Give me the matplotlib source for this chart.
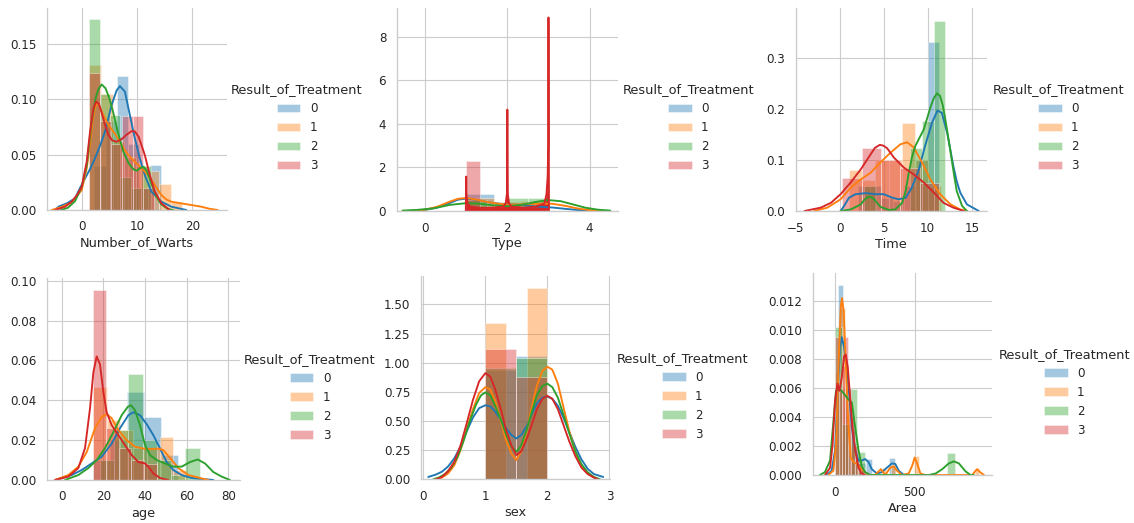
import numpy as np
import matplotlib
matplotlib.use("Agg")
import matplotlib.pyplot as plt
from matplotlib.patches import Patch

W, H, DPI = 1134, 523, 72

GROUPS = ["0", "1", "2", "3"]
COLORS = ["#1f77b4", "#ff7f0e", "#2ca02c", "#d62728"]
LEGEND_TITLE = "Result_of_Treatment"

# ---------------- Number_of_Warts ----------------
warts_bin_start = [2.3, 1.4, 1.37, 1.4]
warts_bin_width = [2.0, 2.1, 1.87, 1.95]
warts_hist_0 = [0.04, 0.08, 0.121, 0.06, 0.02, 0.041]
warts_hist_1 = [0.131, 0.105, 0.062, 0.048, 0.040, 0.035, 0.0235, 0.0075]
warts_hist_2 = [0.173, 0.105, 0.086, 0.03, 0.02, 0.04]
warts_hist_3 = [0.124, 0.08, 0.06, 0.085, 0.085, 0.02]
warts_kde_0 = [(-4.8, 0.0), (-4.2, 0.003), (-2.7, 0.006), (-1.2, 0.0105), (-0.3, 0.02), (0.6, 0.0286),
               (1.5, 0.037), (2.4, 0.0467), (3.3, 0.058), (4.2, 0.0707), (5.4, 0.0948), (6.3, 0.108),
               (6.9, 0.112), (7.8, 0.107), (8.7, 0.0858), (9.6, 0.0647), (10.5, 0.0467), (11.4, 0.0316),
               (12.6, 0.0166), (14.4, 0.0075), (16.2, 0.003), (18.9, 0.0)]
warts_kde_1 = [(-5.4, 0.0), (-3.5, 0.003), (-1.8, 0.007), (0.0, 0.018), (0.9, 0.0376), (1.5, 0.06),
               (2.0, 0.082), (2.4, 0.092), (2.7, 0.097), (3.1, 0.095), (3.6, 0.089), (4.8, 0.077),
               (6.0, 0.069), (7.2, 0.0587), (8.4, 0.0497), (9.6, 0.0436), (10.8, 0.0376), (12.0, 0.0316),
               (13.2, 0.0226), (14.4, 0.0135), (15.3, 0.0095), (16.2, 0.0075), (18.0, 0.006),
               (19.8, 0.0045), (21.6, 0.003), (23.0, 0.0012), (24.6, 0.0)]
warts_kde_2 = [(-3.8, 0.0), (-2.5, 0.002), (-1.2, 0.008), (0.0, 0.021), (0.9, 0.04), (1.8, 0.08),
               (2.5, 0.101), (3.0, 0.109), (3.6, 0.1135), (4.3, 0.11), (5.0, 0.101), (5.7, 0.088),
               (6.5, 0.071), (7.5, 0.053), (8.5, 0.042), (9.3, 0.037), (9.9, 0.0355), (10.6, 0.038),
               (11.2, 0.039), (11.8, 0.035), (12.6, 0.024), (13.5, 0.012), (14.4, 0.005),
               (15.5, 0.001), (16.5, 0.0)]
warts_kde_3 = [(-4.8, 0.0), (-3.0, 0.003), (-1.8, 0.0075), (-0.8, 0.014), (0.0, 0.021), (0.9, 0.0437),
               (1.5, 0.0707), (2.1, 0.0918), (2.6, 0.098), (3.1, 0.096), (3.6, 0.088), (4.2, 0.077),
               (4.8, 0.068), (5.5, 0.063), (6.3, 0.0617), (7.2, 0.064), (8.1, 0.068), (9.0, 0.0713),
               (9.6, 0.071), (10.3, 0.066), (11.4, 0.0497), (12.3, 0.0316), (13.2, 0.0166),
               (14.4, 0.006), (15.9, 0.0)]

# ---------------- Type ----------------
type_bin_start = [1.0, 1.0, 1.0, 1.0]
type_bin_width = [0.667, 0.667, 0.5, 0.333]
type_hist_0 = [0.77, 0.4, 0.33]
type_hist_1 = [0.6, 0.42, 0.48]
type_hist_2 = [0.5, 0.0, 0.58, 0.58]
type_hist_3 = [2.31, 0.0, 0.0, 0.35, 0.0, 0.35]
type_kde_0 = [(-0.45, 0.0), (-0.2, 0.02), (0.0, 0.05), (0.3, 0.16), (0.6, 0.37), (0.8, 0.52), (1.0, 0.57),
              (1.2, 0.53), (1.5, 0.42), (1.8, 0.33), (2.0, 0.31), (2.3, 0.28), (2.6, 0.22), (2.9, 0.18),
              (3.1, 0.16), (3.4, 0.1), (3.7, 0.05), (4.0, 0.02), (4.3, 0.0)]
type_kde_1 = [(-0.4, 0.0), (-0.2, 0.02), (0.0, 0.06), (0.3, 0.2), (0.6, 0.43), (0.8, 0.56), (1.0, 0.6),
              (1.2, 0.54), (1.5, 0.42), (1.8, 0.33), (2.0, 0.3), (2.3, 0.3), (2.6, 0.32), (2.9, 0.34),
              (3.1, 0.33), (3.4, 0.24), (3.7, 0.12), (4.0, 0.04), (4.3, 0.0)]
type_kde_2 = [(-0.55, 0.02), (-0.2, 0.05), (0.2, 0.12), (0.6, 0.28), (1.0, 0.36), (1.3, 0.34), (1.6, 0.27),
              (2.0, 0.22), (2.4, 0.3), (2.7, 0.42), (3.0, 0.5), (3.3, 0.45), (3.6, 0.3), (3.9, 0.15),
              (4.2, 0.06), (4.5, 0.02)]
type_kde_3 = [(0.99, 0.0), (1.0, 1.58), (1.005, 0.8), (1.02, 0.45), (1.05, 0.3), (1.1, 0.2), (1.3, 0.15),
              (1.6, 0.15), (1.9, 0.2), (1.96, 0.35), (1.99, 0.8), (2.0, 4.65), (2.01, 0.8), (2.04, 0.35),
              (2.1, 0.2), (2.4, 0.15), (2.7, 0.2), (2.9, 0.35), (2.95, 0.75), (2.98, 1.58), (2.995, 3.0),
              (3.0, 8.88), (3.01, 0.0)]

# ---------------- Time ----------------
time_bin_start = [2.08, 1.05, 2.76, 0.3]
time_bin_width = [1.32, 1.5, 1.32, 2.2]
time_hist_0 = [0.05, 0.05, 0.025, 0.02, 0.05, 0.1, 0.331]
time_hist_1 = [0.08, 0.06, 0.1, 0.1, 0.172, 0.1, 0.05]
time_hist_2 = [0.05, 0.0, 0.0, 0.0, 0.123, 0.177, 0.374]
time_hist_3 = [0.065, 0.124, 0.1, 0.085, 0.055]
time_kde_0 = [(0.1, 0.0), (0.5, 0.01), (1.05, 0.026), (1.8, 0.033), (2.94, 0.035), (4.1, 0.033),
              (5.0, 0.033), (6.0, 0.026), (6.7, 0.023), (7.5, 0.026), (8.2, 0.046), (9.0, 0.082),
              (9.7, 0.128), (10.5, 0.174), (11.1, 0.197), (11.6, 0.193), (12.2, 0.154), (12.55, 0.122),
              (12.9, 0.089), (13.3, 0.058), (13.7, 0.036), (14.45, 0.013), (15.8, 0.0)]
time_kde_1 = [(-2.9, 0.0), (-1.4, 0.0066), (0.1, 0.023), (1.25, 0.046), (2.4, 0.062), (3.5, 0.075),
              (4.6, 0.095), (5.8, 0.115), (6.9, 0.131), (7.66, 0.135), (8.4, 0.125), (9.36, 0.095),
              (10.3, 0.062), (11.4, 0.033), (12.6, 0.013), (13.7, 0.003), (14.5, 0.0)]
time_kde_2 = [(0.1, 0.0), (1.25, 0.003), (2.4, 0.013), (2.8, 0.022), (3.2, 0.0275), (3.5, 0.028),
              (3.9, 0.023), (4.64, 0.008), (5.6, 0.002), (6.3, 0.003), (7.1, 0.016), (7.5, 0.04),
              (7.85, 0.075), (8.2, 0.105), (8.6, 0.128), (9.1, 0.145), (9.55, 0.16), (10.3, 0.203),
              (10.7, 0.222), (11.05, 0.231), (11.4, 0.226), (11.7, 0.208), (12.0, 0.18), (12.3, 0.148),
              (12.6, 0.115), (13.0, 0.07), (13.3, 0.039), (13.9, 0.01), (14.45, 0.0)]
time_kde_3 = [(-4.0, 0.0), (-2.15, 0.0066), (-1.0, 0.016), (0.1, 0.033), (1.25, 0.056), (2.4, 0.082),
              (3.5, 0.111), (4.0, 0.124), (4.57, 0.13), (5.0, 0.128), (5.4, 0.123), (6.15, 0.105),
              (7.3, 0.085), (8.4, 0.072), (9.55, 0.056), (10.7, 0.036), (11.8, 0.016), (12.9, 0.0066),
              (14.1, 0.0)]

# ---------------- age ----------------
age_bin_start = [15.2, 15.2, 18.3, 15.2]
age_bin_width = [8.1, 6.4, 6.85, 6.1]
age_hist_0 = [0.01, 0.02, 0.044, 0.0317, 0.0125]
age_hist_1 = [0.0467, 0.03, 0.025, 0.016, 0.016, 0.0217, 0.005]
age_hist_2 = [0.01, 0.025, 0.053, 0.02, 0.01, 0.0025, 0.0162]
age_hist_3 = [0.0955, 0.026, 0.016, 0.01, 0.008]
age_kde_0 = [(-3.2, 0.0), (4.8, 0.0025), (9.6, 0.005), (14.4, 0.0083), (19.2, 0.0117), (24.0, 0.0183),
             (28.0, 0.026), (32.0, 0.0325), (34.4, 0.034), (37.6, 0.0325), (40.8, 0.028), (44.0, 0.0225),
             (47.2, 0.0158), (50.4, 0.009), (53.6, 0.005), (57.6, 0.0025), (62.4, 0.001), (72.8, 0.0)]
age_kde_1 = [(-3.2, 0.0), (3.2, 0.0025), (8.0, 0.0067), (12.0, 0.014), (16.0, 0.026), (19.2, 0.0317),
             (21.6, 0.033), (24.0, 0.031), (27.2, 0.025), (31.2, 0.02), (35.2, 0.0167), (39.2, 0.0158),
             (43.2, 0.0155), (46.4, 0.0158), (48.8, 0.015), (52.0, 0.011), (56.0, 0.006), (60.8, 0.0025),
             (67.2, 0.0008), (70.4, 0.0)]
age_kde_2 = [(1.6, 0.0), (8.0, 0.0025), (12.8, 0.006), (16.8, 0.01), (20.8, 0.016), (24.8, 0.024),
             (28.8, 0.0325), (31.7, 0.0367), (33.3, 0.0375), (35.2, 0.035), (37.6, 0.0275), (40.0, 0.0175),
             (42.4, 0.0125), (45.6, 0.01), (49.6, 0.0083), (53.6, 0.0067), (57.6, 0.0067), (61.6, 0.009),
             (65.3, 0.0103), (68.8, 0.0083), (72.8, 0.004), (76.8, 0.0017), (80.8, 0.0)]
age_kde_3 = [(-3.2, 0.0), (3.2, 0.0017), (8.0, 0.006), (11.2, 0.016), (13.6, 0.036), (15.2, 0.054),
             (16.8, 0.062), (18.4, 0.058), (20.0, 0.044), (21.6, 0.034), (24.0, 0.0275), (27.2, 0.0225),
             (30.4, 0.0175), (33.6, 0.0125), (36.8, 0.009), (40.0, 0.0083), (41.6, 0.0067), (44.0, 0.0033),
             (47.2, 0.001), (51.2, 0.0)]

# ---------------- sex ----------------
sex_bin_start = [1.0, 1.0, 1.0, 1.0]
sex_bin_width = [0.5, 0.333, 0.5, 0.5]
sex_hist_0 = [0.94, 1.06]
sex_hist_1 = [1.343, 0.0, 1.64]
sex_hist_2 = [0.957, 1.043]
sex_hist_3 = [1.12, 0.88]
sex_kde_0 = [(0.08, 0.02), (0.2, 0.04), (0.3, 0.065), (0.4, 0.11), (0.5, 0.18), (0.6, 0.28), (0.7, 0.41),
             (0.8, 0.53), (0.9, 0.61), (1.0, 0.635), (1.08, 0.625), (1.16, 0.58), (1.25, 0.51), (1.33, 0.44),
             (1.42, 0.38), (1.5, 0.35), (1.58, 0.38), (1.67, 0.46), (1.75, 0.56), (1.83, 0.65), (1.92, 0.7),
             (2.0, 0.71), (2.08, 0.69), (2.17, 0.63), (2.25, 0.54), (2.35, 0.41), (2.45, 0.28), (2.55, 0.17),
             (2.65, 0.09), (2.75, 0.045), (2.9, 0.02)]
sex_kde_1 = [(0.22, 0.0), (0.3, 0.015), (0.4, 0.05), (0.5, 0.12), (0.6, 0.25), (0.7, 0.43), (0.8, 0.6),
             (0.9, 0.74), (1.0, 0.79), (1.08, 0.77), (1.16, 0.67), (1.25, 0.5), (1.33, 0.34), (1.42, 0.22),
             (1.5, 0.165), (1.58, 0.24), (1.67, 0.42), (1.75, 0.62), (1.83, 0.8), (1.92, 0.93), (2.0, 0.965),
             (2.08, 0.94), (2.17, 0.82), (2.25, 0.64), (2.35, 0.42), (2.45, 0.24), (2.55, 0.11), (2.65, 0.05),
             (2.75, 0.015), (2.82, 0.0)]
sex_kde_2 = [(0.16, 0.0), (0.25, 0.015), (0.35, 0.045), (0.45, 0.1), (0.55, 0.19), (0.65, 0.33), (0.75, 0.5),
             (0.85, 0.64), (0.93, 0.72), (1.0, 0.745), (1.08, 0.72), (1.16, 0.63), (1.25, 0.51), (1.33, 0.39),
             (1.42, 0.28), (1.5, 0.237), (1.58, 0.29), (1.67, 0.43), (1.75, 0.58), (1.83, 0.72), (1.92, 0.8),
             (2.0, 0.82), (2.08, 0.79), (2.17, 0.7), (2.25, 0.57), (2.35, 0.4), (2.45, 0.24), (2.55, 0.13),
             (2.65, 0.06), (2.75, 0.02), (2.85, 0.0)]
sex_kde_3 = [(0.2, 0.0), (0.3, 0.02), (0.4, 0.07), (0.5, 0.15), (0.6, 0.29), (0.7, 0.48), (0.8, 0.68),
             (0.9, 0.84), (1.0, 0.91), (1.08, 0.88), (1.16, 0.77), (1.25, 0.6), (1.33, 0.43), (1.42, 0.29),
             (1.5, 0.208), (1.58, 0.24), (1.67, 0.35), (1.75, 0.47), (1.83, 0.6), (1.92, 0.69), (2.0, 0.716),
             (2.08, 0.69), (2.17, 0.6), (2.25, 0.48), (2.35, 0.33), (2.45, 0.2), (2.55, 0.1), (2.65, 0.045),
             (2.75, 0.015), (2.82, 0.0)]

# ---------------- Area ----------------
area_bin_start = [18.0, 4.0, 2.0, 4.0]
area_bin_width = [36.0, 29.0, 46.7, 20.0]
area_hist_0 = [0.0131, 0.006, 0.003, 0.001, 0.0008, 0.0011, 0.0, 0.0, 0.0, 0.00115]
area_hist_1 = [0.007, 0.0115, 0.006, 0.002, 0.001, 0.0007, 0, 0, 0, 0, 0.0005, 0, 0.0007, 0, 0, 0, 0,
               0.0013, 0, 0, 0, 0, 0, 0, 0, 0, 0, 0, 0, 0, 0.0005]
area_hist_2 = [0.0102, 0.0035, 0.0059, 0.0016, 0, 0, 0, 0, 0, 0, 0, 0, 0, 0, 0, 0.0015]
area_hist_3 = [0.0095, 0.006, 0.0075, 0.0095, 0.006, 0.004, 0.002, 0.0008, 0.0005]
area_kde_0 = [(-50, 0.0), (-19, 0.0003), (2, 0.0017), (17, 0.0054), (33, 0.0088), (44, 0.0095), (59, 0.0088),
              (75, 0.0072), (92, 0.0054), (107, 0.0033), (128, 0.0017), (149, 0.001), (169, 0.001),
              (190, 0.0011), (211, 0.0009), (232, 0.0004), (264, 0.0001), (295, 0.0002), (326, 0.0005),
              (358, 0.0008), (379, 0.00076), (400, 0.0003), (431, 0.0), (452, 0.0)]
area_kde_1 = [(-40, 0.0), (-8, 0.0003), (8, 0.0021), (23, 0.0072), (38, 0.0116), (46, 0.0122), (56, 0.0113),
              (71, 0.0072), (86, 0.0033), (100, 0.0012), (117, 0.0009), (138, 0.00076), (159, 0.0005),
              (180, 0.0003), (211, 0.0), (253, 0.0), (270, 0.0002), (289, 0.0004), (316, 0.0), (347, 0.0005),
              (368, 0.0006), (389, 0.0003), (420, 0.0), (462, 0.0001), (483, 0.0006), (500, 0.0012),
              (515, 0.0008), (536, 0.0001), (567, 0.0), (860, 0.0), (881, 0.0003), (891, 0.0004),
              (908, 0.0002), (933, 0.0)]
area_kde_2 = [(-92, 0.0), (-61, 0.0002), (-29, 0.001), (-8, 0.0037), (8, 0.0058), (23, 0.006), (44, 0.0058),
              (65, 0.0055), (86, 0.0052), (107, 0.005), (128, 0.0033), (149, 0.0017), (169, 0.0006),
              (190, 0.0002), (222, 0.0), (588, 0.0), (630, 0.0001), (672, 0.0004), (713, 0.0008),
              (745, 0.00094), (776, 0.0008), (818, 0.00025), (849, 0.0), (870, 0.0)]
area_kde_3 = [(-61, 0.0), (-29, 0.0005), (-13, 0.0021), (2, 0.0051), (17, 0.0063), (29, 0.0058), (44, 0.0067),
              (59, 0.0082), (69, 0.0083), (82, 0.0074), (96, 0.0054), (113, 0.003), (130, 0.0016),
              (149, 0.0005), (169, 0.0001), (190, 0.0)]

TEXT = "#262626"
GRID = "#cccccc"
TICK_SIZE = 11.9
LABEL_SIZE = 12.9
LEGEND_SIZE = 11.9
LEGEND_TITLE_SIZE = 12.9

fig = plt.figure(figsize=(W / DPI, H / DPI), dpi=DPI)
fig.patch.set_facecolor("white")


def make_axes(left, top, right, bottom):
    return fig.add_axes([left / W, 1 - bottom / H, (right - left) / W, (bottom - top) / H])


def style_axes(ax, xlabel, xlim, ylim, xticks, yticks, yfmt):
    ax.set_xlim(*xlim)
    ax.set_ylim(*ylim)
    ax.set_xticks(xticks)
    ax.set_yticks(yticks)
    ax.set_yticklabels([yfmt.format(v) for v in yticks])
    ax.set_xlabel(xlabel, fontsize=LABEL_SIZE, color=TEXT, labelpad=3)
    ax.grid(True, color=GRID, linewidth=1.1)
    ax.set_axisbelow(True)
    for side in ("top", "right"):
        ax.spines[side].set_visible(False)
    for side in ("left", "bottom"):
        ax.spines[side].set_color(GRID)
        ax.spines[side].set_linewidth(1.35)
    ax.tick_params(length=0, pad=10.5, labelsize=TICK_SIZE, labelcolor=TEXT)


def draw_groups(ax, starts, widths, hists, kdes, filled=()):
    for i in range(len(GROUPS)):
        h = np.asarray(hists[i], dtype=float)
        lefts = starts[i] + widths[i] * np.arange(len(h))
        ax.bar(lefts, h, width=widths[i], align="edge", color=COLORS[i], alpha=0.4,
               edgecolor="white", linewidth=1)
        xs, ys = np.array(kdes[i]).T
        if i in filled:
            ax.fill_between(xs, 0, ys, color=COLORS[i], linewidth=0)
        ax.plot(xs, ys, color=COLORS[i], linewidth=1.9,
                solid_joinstyle="round", solid_capstyle="round")


def add_legend(cx, cy):
    handles = [Patch(facecolor=c, alpha=0.4, edgecolor="white") for c in COLORS]
    leg = fig.legend(handles, GROUPS, title=LEGEND_TITLE, loc="center",
                     bbox_to_anchor=(cx / W, 1 - cy / H), frameon=False,
                     fontsize=LEGEND_SIZE, title_fontsize=LEGEND_TITLE_SIZE)
    for t in leg.get_texts():
        t.set_color(TEXT)
    leg.get_title().set_color(TEXT)


# Number_of_Warts
ax = make_axes(46.7, 8.3, 226.7, 210)
draw_groups(ax, warts_bin_start, warts_bin_width,
            [warts_hist_0, warts_hist_1, warts_hist_2, warts_hist_3],
            [warts_kde_0, warts_kde_1, warts_kde_2, warts_kde_3])
style_axes(ax, "Number_of_Warts", (-6.33, 26.2), (0, 0.1823), [0, 10, 20],
           [0, 0.05, 0.10, 0.15], "{:.2f}")
add_legend(297, 127.7)

# Type
ax = make_axes(396.7, 8.3, 618, 211)
draw_groups(ax, type_bin_start, type_bin_width,
            [type_hist_0, type_hist_1, type_hist_2, type_hist_3],
            [type_kde_0, type_kde_1, type_kde_2, type_kde_3], filled=(3,))
style_axes(ax, "Type", (-0.69, 4.69), (0, 9.3), [0, 2, 4], [0, 2, 4, 6, 8], "{:.0f}")
add_legend(688.3, 127.7)

# Time
ax = make_axes(795.7, 8.3, 986.7, 211)
draw_groups(ax, time_bin_start, time_bin_width,
            [time_hist_0, time_hist_1, time_hist_2, time_hist_3],
            [time_kde_0, time_kde_1, time_kde_2, time_kde_3])
style_axes(ax, "Time", (-4.89, 16.7), (0, 0.398), [-5, 0, 5, 10, 15], [0, 0.1, 0.2, 0.3], "{:.1f}")
add_legend(1058.3, 127.7)

# age
ax = make_axes(46.7, 278.3, 240, 480)
draw_groups(ax, age_bin_start, age_bin_width,
            [age_hist_0, age_hist_1, age_hist_2, age_hist_3],
            [age_kde_0, age_kde_1, age_kde_2, age_kde_3])
style_axes(ax, "age", (-7.2, 85.6), (0, 0.1012), [0, 20, 40, 60, 80],
           [0, 0.02, 0.04, 0.06, 0.08, 0.10], "{:.2f}")
add_legend(310, 397.2)

# sex
ax = make_axes(420.7, 276, 610, 479.3)
draw_groups(ax, sex_bin_start, sex_bin_width,
            [sex_hist_0, sex_hist_1, sex_hist_2, sex_hist_3],
            [sex_kde_0, sex_kde_1, sex_kde_2, sex_kde_3])
style_axes(ax, "sex", (-0.042, 3.01), (0, 1.743), [0, 1, 2, 3],
           [0, 0.25, 0.5, 0.75, 1.0, 1.25, 1.5], "{:.2f}")
add_legend(682.3, 396.2)

# Area
ax = make_axes(812.7, 273.3, 992.3, 475)
draw_groups(ax, area_bin_start, area_bin_width,
            [area_hist_0, area_hist_1, area_hist_2, area_hist_3],
            [area_kde_0, area_kde_1, area_kde_2, area_kde_3])
style_axes(ax, "Area", (-137.5, 985), (0, 0.0139), [0, 500],
           [0, 0.002, 0.004, 0.006, 0.008, 0.010, 0.012], "{:.3f}")
add_legend(1064.3, 392.2)

fig.savefig("out.png", dpi=DPI, facecolor="white")
